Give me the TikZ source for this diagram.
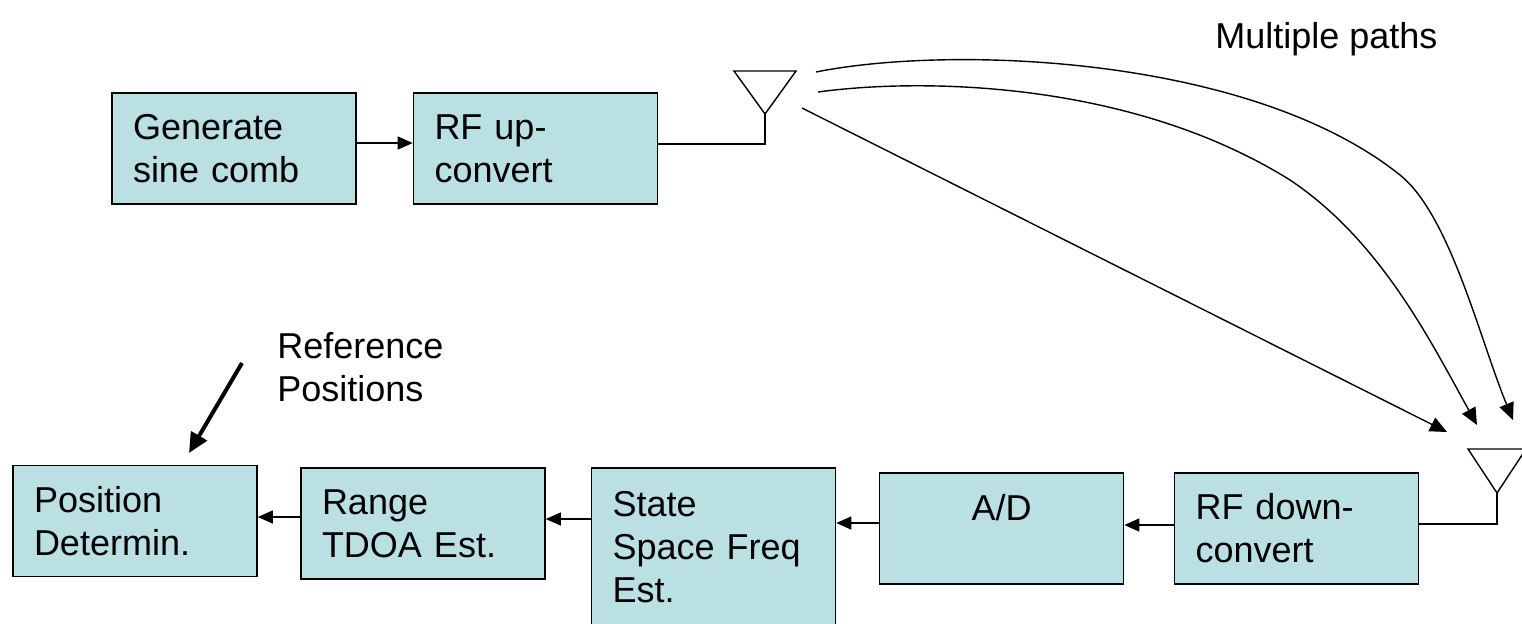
\documentclass[tikz,border=0pt]{standalone}
\usepackage{fontspec}
\setmainfont{Liberation Sans}
\usetikzlibrary{arrows.meta}
\definecolor{boxfill}{RGB}{187,224,227}

\begin{document}
\begin{tikzpicture}[x=0.5pt, y=-0.5pt, font=\fontsize{18}{21.5}\selectfont]
	\tikzset{blk/.style={draw, line width=0.8pt, fill=boxfill, minimum width=122pt, minimum height=55.5pt, text width=101pt, inner xsep=10.5pt, align=left}}
	\tikzset{arr/.style={line width=0.7pt, -{Triangle[length=7.5pt,width=6.5pt]}}}
	\tikzset{path arr/.style={line width=0.7pt, -{Triangle[length=8.5pt,width=7.5pt]}}}
	\tikzset{wire/.style={line width=0.7pt}}

	\useasboundingbox (0,0) rectangle (1522,623);

	% transmitter
	\node[blk] (gen) at (234,148.5) {Generate\\sine comb};
	\node[blk] (rfup) at (535.5,148.5) {RF up-\\convert};
	\draw[arr] ([yshift=2.75pt]gen.east) -- ([yshift=2.75pt]rfup.west);

	\coordinate (tx) at (765,114);
	\draw[wire] (tx) -- ++(-31,-43) -- ++(62,0) -- cycle;
	\draw[wire] ([yshift=2.25pt]rfup.east) -| (tx);

	% receiver chain
	\node[blk] (pos) at (135,521) {Position\\Determin.};
	\node[blk] (rng) at (423,523.5) {Range\\TDOA Est.};
	\node[blk, minimum height=79pt] (state) at (713.5,547) {State\\Space Freq\\Est.};
	\node[blk, align=center, text depth=21.5pt] (ad) at (1001.5,528.5) {A/D};
	\node[blk] (rfdn) at (1296.5,528.5) {RF down-\\convert};

	\coordinate (rx) at (1497,493);
	\draw[wire] (rx) -- ++(-29,-44) -- ++(58,0) -- cycle;
	\draw[wire] ([yshift=2.25pt]rfdn.east) -| (rx);

	\draw[arr] ([yshift=1.75pt]rfdn.west) coordinate (a1) -- (a1 -| ad.east);
	\draw[arr] ([yshift=2.75pt]ad.west) coordinate (a2) -- (a2 -| state.east);
	\path ([yshift=2.25pt]rng.east) coordinate (a3);
	\draw[arr] (a3 -| state.west) -- (a3);
	\draw[arr] ([yshift=3.25pt]rng.west) coordinate (a4) -- (a4 -| pos.east);

	% paths
	\coordinate (p1s) at (816,72);
	\coordinate (p1e) at (1513,420);
	\coordinate (p2s) at (818,92);
	\coordinate (p2e) at (1477,425);
	\coordinate (p3s) at (802,108);
	\coordinate (p3e) at (1447,432);
	\draw[path arr] (p1s) .. controls (950,45) and (1250,55) .. (1400,175) .. controls (1450,215) and (1480,340) .. (p1e);
	\draw[path arr] (p2s) .. controls (920,78) and (1130,80) .. (1290,180) .. controls (1380,240) and (1430,340) .. (p2e);
	\draw[path arr] (p3s) -- (p3e);
	\node[anchor=north west, inner sep=0pt] (mp) at (1215,22) {Multiple paths};

	% reference positions
	\node[anchor=north west, inner sep=0pt, align=left] (refpos) at (277,332) {Reference\\Positions};
	\coordinate (rs) at (242,363);
	\coordinate (re) at (189,453);
	\draw[line width=2pt, -{Triangle[length=10pt,width=9pt]}] (rs) -- (re);
	%\draw[red] (0,0) rectangle (1522,623);
\end{tikzpicture}
\end{document}
